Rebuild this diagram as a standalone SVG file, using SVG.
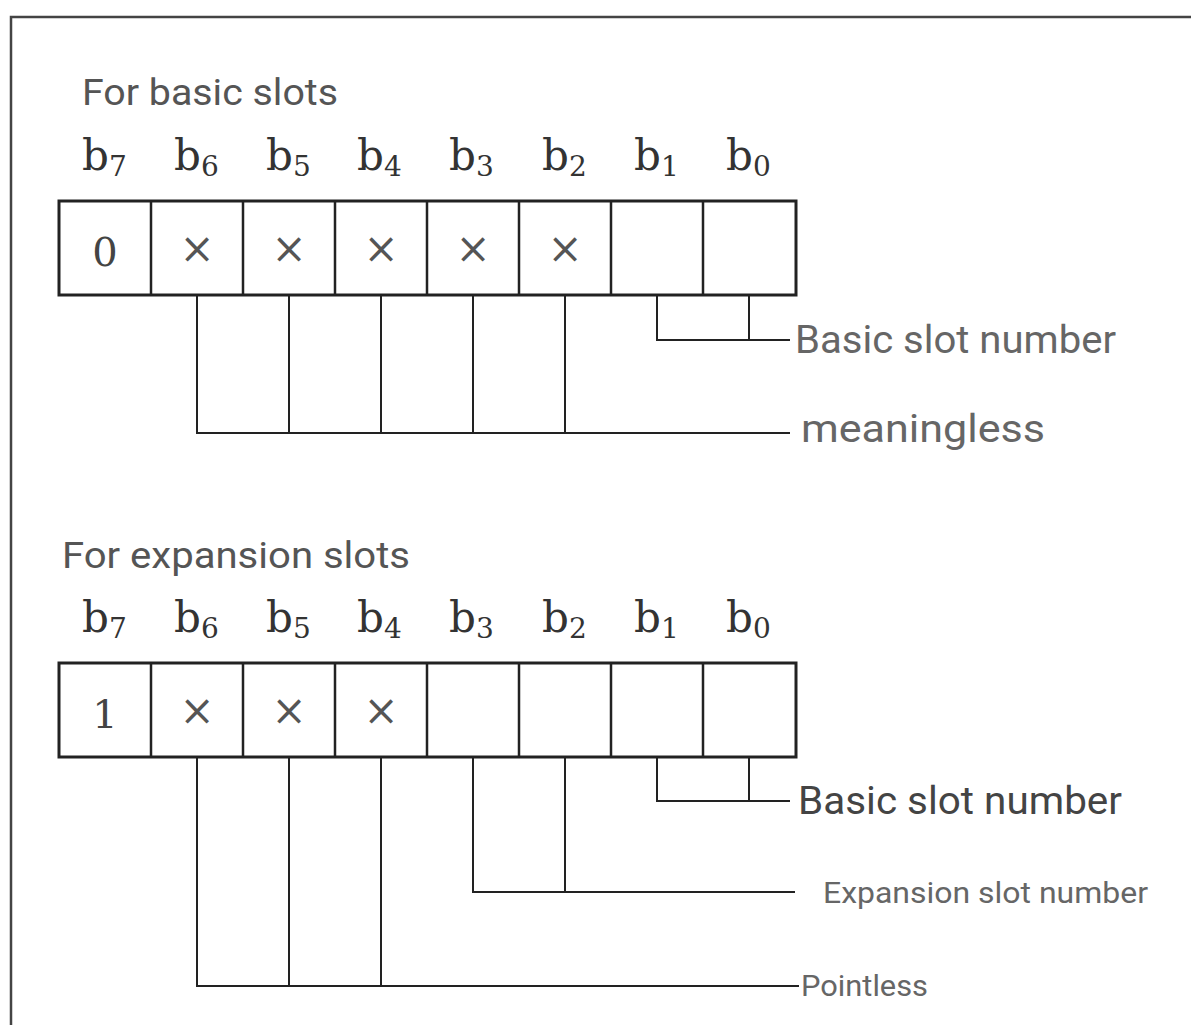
<svg xmlns="http://www.w3.org/2000/svg" width="1191" height="1025" viewBox="0 0 1191 1025">
<style>
.frame{fill:none;stroke:#444;stroke-width:2.5}
.reg{fill:#fff;stroke:#222;stroke-width:3}
.div{stroke:#222;stroke-width:2.5}
.conn{fill:none;stroke:#222;stroke-width:2}
.title{font-family:Roboto,"Liberation Sans",sans-serif;font-size:36px;fill:#555}
.lbl{font-family:Roboto,"Liberation Sans",sans-serif;font-size:39px;fill:#666}
.lbl2{font-family:Roboto,"Liberation Sans",sans-serif;font-size:38px;fill:#444}
.small{font-family:Roboto,"Liberation Sans",sans-serif;font-size:29px;fill:#666}
.bit{font-family:"DejaVu Serif",serif;font-size:42px;fill:#333}
.sub{font-size:28px}
.val{font-family:"DejaVu Serif",serif;font-size:40px;fill:#444;text-anchor:middle}
.x{font-family:"DejaVu Serif",serif;font-size:42px;fill:#555;text-anchor:middle}
</style>
<rect width="1191" height="1025" fill="#fff"/>
<path class="frame" d="M11,1025 V17 H1191"/>

<g id="basic">
  <text class="title" x="82" y="105" textLength="256" lengthAdjust="spacingAndGlyphs">For basic slots</text>
  <g id="basic-bits">
    <text class="bit" x="82" y="170">b<tspan class="sub" dy="6">7</tspan></text>
    <text class="bit" x="174" y="170">b<tspan class="sub" dy="6">6</tspan></text>
    <text class="bit" x="266" y="170">b<tspan class="sub" dy="6">5</tspan></text>
    <text class="bit" x="357" y="170">b<tspan class="sub" dy="6">4</tspan></text>
    <text class="bit" x="449" y="170">b<tspan class="sub" dy="6">3</tspan></text>
    <text class="bit" x="542" y="170">b<tspan class="sub" dy="6">2</tspan></text>
    <text class="bit" x="634" y="170">b<tspan class="sub" dy="6">1</tspan></text>
    <text class="bit" x="726" y="170">b<tspan class="sub" dy="6">0</tspan></text>
  </g>
  <g id="basic-register">
    <rect class="reg" x="59" y="201" width="737" height="94"/>
    <path class="div" d="M151,201V295M243,201V295M335,201V295M427,201V295M519,201V295M611,201V295M703,201V295"/>
    <text class="val" x="105" y="266">0</text>
    <text class="x" x="197" y="263">×</text>
    <text class="x" x="289" y="263">×</text>
    <text class="x" x="381" y="263">×</text>
    <text class="x" x="473" y="263">×</text>
    <text class="x" x="565" y="263">×</text>
  </g>
  <g id="basic-slot-label"><text class="lbl" x="795" y="353" textLength="321" lengthAdjust="spacingAndGlyphs">Basic slot number</text></g>
  <g id="meaningless-label"><text class="lbl" x="801" y="442" textLength="244" lengthAdjust="spacingAndGlyphs">meaningless</text></g>
</g>

<g id="expansion">
  <text class="title" x="62" y="568" textLength="348" lengthAdjust="spacingAndGlyphs">For expansion slots</text>
  <g id="expansion-bits">
    <text class="bit" x="82" y="632">b<tspan class="sub" dy="6">7</tspan></text>
    <text class="bit" x="174" y="632">b<tspan class="sub" dy="6">6</tspan></text>
    <text class="bit" x="266" y="632">b<tspan class="sub" dy="6">5</tspan></text>
    <text class="bit" x="357" y="632">b<tspan class="sub" dy="6">4</tspan></text>
    <text class="bit" x="449" y="632">b<tspan class="sub" dy="6">3</tspan></text>
    <text class="bit" x="542" y="632">b<tspan class="sub" dy="6">2</tspan></text>
    <text class="bit" x="634" y="632">b<tspan class="sub" dy="6">1</tspan></text>
    <text class="bit" x="726" y="632">b<tspan class="sub" dy="6">0</tspan></text>
  </g>
  <g id="expansion-register">
    <rect class="reg" x="59" y="663" width="737" height="94"/>
    <path class="div" d="M151,663V757M243,663V757M335,663V757M427,663V757M519,663V757M611,663V757M703,663V757"/>
    <text class="val" x="105" y="728">1</text>
    <text class="x" x="197" y="725">×</text>
    <text class="x" x="289" y="725">×</text>
    <text class="x" x="381" y="725">×</text>
  </g>
  <g id="exp-basic-slot-label"><text class="lbl2" x="798" y="814" textLength="324" lengthAdjust="spacingAndGlyphs">Basic slot number</text></g>
  <g id="exp-slot-label"><text class="small" x="823" y="903" textLength="325" lengthAdjust="spacingAndGlyphs">Expansion slot number</text></g>
  <g id="pointless-label"><text class="small" x="801" y="996" textLength="127" lengthAdjust="spacingAndGlyphs">Pointless</text></g>
</g>

<g id="connectors">
  <path class="conn" d="M657,295V340H790M749,295V340"/>
  <path class="conn" d="M197,295V433H790M289,295V433M381,295V433M473,295V433M565,295V433"/>
  <path class="conn" d="M657,757V801H790M749,757V801"/>
  <path class="conn" d="M473,757V892H795M565,757V892"/>
  <path class="conn" d="M197,757V986H799M289,757V986M381,757V986"/>
</g>
</svg>
